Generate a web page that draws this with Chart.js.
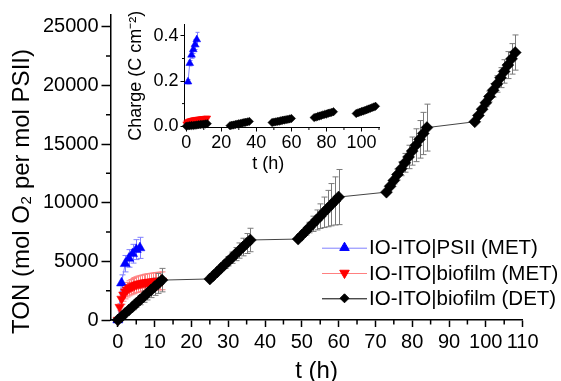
<!DOCTYPE html>
<html><head><meta charset="utf-8">
<script src="https://cdn.jsdelivr.net/npm/chart.js@4.4.1/dist/chart.umd.min.js"></script>
<style>
html,body{margin:0;padding:0;background:#fff;}
#wrap{position:relative;width:561px;height:381px;overflow:hidden;}
#main{position:absolute;left:0;top:0;}
#inset{position:absolute;left:100px;top:0;pointer-events:none;}
</style></head><body>
<div id="wrap">
<canvas id="main" width="561" height="381"></canvas>
<canvas id="inset" width="290" height="178"></canvas>
</div>
<script>
// ---------- DATA ----------
const seriesNames = ['IO-ITO|PSII (MET)', 'IO-ITO|biofilm (MET)', 'IO-ITO|biofilm (DET)'];

// IO-ITO|PSII (MET)
const tPSII   = [0, 1, 2, 3, 4, 5, 6];
const tonPSII = [0, 3150, 4800, 5250, 5650, 6000, 6150];
const errPSII = [0, 700, 700, 750, 800, 850, 900];

// IO-ITO|biofilm (MET)
const tBio    = [0, 0.5, 1, 1.5, 2, 2.5, 3, 3.5, 4, 4.5, 5, 5.5, 6, 6.5, 7, 7.5, 8, 8.5, 9, 9.5, 10, 10.5, 11, 11.5, 12];
const tonBio  = [0, 1100, 1800, 2150, 2400, 2580, 2700, 2800, 2880, 2950, 3010, 3060, 3100, 3140, 3170, 3200, 3220, 3240, 3260, 3280, 3300, 3310, 3320, 3330, 3340];
const errBio  = [0, 300, 450, 550, 600, 620, 640, 650, 660, 670, 680, 690, 700, 700, 710, 710, 720, 720, 730, 730, 740, 740, 750, 750, 760];

// IO-ITO|biofilm (DET)
const tDET   = [0, 1, 2, 3, 4, 5, 6, 7, 8, 9, 10, 11, 12,
                25, 26, 27, 28, 29, 30, 31, 32, 33, 34, 35, 36,
                49, 50, 51, 52, 53, 54, 55, 56, 57, 58, 59, 60,
                73, 74, 75, 76, 77, 78, 79, 80, 81, 82, 83, 84,
                97, 98, 99, 100, 101, 102, 103, 104, 105, 106, 107, 108];
const tonDET = [0, 280, 570, 850, 1130, 1420, 1700, 1990, 2270, 2560, 2840, 3120, 3400,
                3500, 3800, 4100, 4410, 4710, 5010, 5310, 5620, 5920, 6220, 6520, 6820,
                6900, 7230, 7550, 7880, 8200, 8530, 8850, 9180, 9500, 9830, 10150, 10480,
                10900, 11400, 11900, 12400, 12900, 13400, 13900, 14400, 14900, 15400, 15900, 16400,
                16900, 17440, 17970, 18510, 19050, 19580, 20120, 20660, 21190, 21730, 22260, 22800];
const errDET = [0, 60, 120, 190, 260, 330, 400, 480, 560, 650, 740, 850, 1000,
                40, 90, 160, 240, 320, 400, 480, 560, 650, 750, 850, 1000,
                60, 150, 300, 450, 650, 850, 1050, 1300, 1550, 1800, 2050, 2350,
                60, 150, 300, 450, 600, 800, 1000, 1200, 1400, 1600, 1800, 2000,
                50, 120, 220, 330, 450, 580, 700, 850, 1000, 1150, 1300, 1500];

// Inset: charge (C cm-2)
const tPSIIin     = [1, 2, 3, 4, 5, 6];
const chargePSII  = [0.197, 0.279, 0.316, 0.340, 0.362, 0.384];
const errChPSII   = [0.010, 0.012, 0.015, 0.018, 0.022, 0.032];
const chargeBio   = [0.010, 0.015, 0.019, 0.021, 0.023, 0.024, 0.025, 0.026, 0.027, 0.028, 0.028, 0.029, 0.030, 0.030, 0.031, 0.031, 0.032, 0.032, 0.033, 0.033, 0.034, 0.034, 0.035, 0.035, 0.036];
const chargeDET   = [0.000, 0.001, 0.002, 0.003, 0.003, 0.004, 0.005, 0.006, 0.007, 0.008, 0.009, 0.010, 0.011,
                     0.002, 0.004, 0.005, 0.007, 0.009, 0.011, 0.012, 0.014, 0.016, 0.017, 0.019, 0.021,
                     0.016, 0.018, 0.019, 0.021, 0.022, 0.024, 0.026, 0.027, 0.029, 0.030, 0.032, 0.034,
                     0.038, 0.040, 0.043, 0.045, 0.047, 0.050, 0.052, 0.054, 0.057, 0.059, 0.061, 0.064,
                     0.056, 0.059, 0.062, 0.065, 0.067, 0.070, 0.073, 0.076, 0.079, 0.082, 0.085, 0.088];

// Tick values
const xTicksMain  = [0, 10, 20, 30, 40, 50, 60, 70, 80, 90, 100, 110];
const xMinorMain  = [5, 15, 25, 35, 45, 55, 65, 75, 85, 95, 105];
const yTicksMain  = [0, 5000, 10000, 15000, 20000, 25000];
const yMinorMain  = [2500, 7500, 12500, 17500, 22500];
const xTicksInset = [0, 20, 40, 60, 80, 100];
const xMinorInset = [10, 30, 50, 70, 90, 110];
const yTicksInset = [0, 0.2, 0.4];
const yMinorInset = [0.1, 0.3];

// ---------- HELPERS ----------
const FONT = "'Liberation Sans', Arial, sans-serif";
const pts = (xs, ys) => xs.map((x, i) => ({x: x, y: ys[i]}));

const errorBarPlugin = {
  id: 'errbars',
  beforeDatasetsDraw(chart) {
    const ctx = chart.ctx, xs = chart.scales.x, ys = chart.scales.y;
    chart.data.datasets.forEach(ds => {
      if (!ds.errors) return;
      ctx.save();
      ctx.strokeStyle = ds.errColor; ctx.lineWidth = 1;
      ds.data.forEach((p, i) => {
        const e = ds.errors[i]; if (!e) return;
        const x = Math.round(xs.getPixelForValue(p.x)) + 0.5;
        const y1 = ys.getPixelForValue(p.y + e), y2 = ys.getPixelForValue(p.y - e);
        const c = ds.capHalf;
        ctx.beginPath();
        ctx.moveTo(x, y1); ctx.lineTo(x, y2);
        ctx.moveTo(x - c, y1); ctx.lineTo(x + c, y1);
        ctx.moveTo(x - c, y2); ctx.lineTo(x + c, y2);
        ctx.stroke();
      });
      ctx.restore();
    });
  }
};

const minorTickPlugin = {
  id: 'minorticks',
  afterDraw(chart, args, opts) {
    const ctx = chart.ctx, xs = chart.scales.x, ys = chart.scales.y;
    ctx.save();
    ctx.strokeStyle = '#000'; ctx.lineWidth = opts.width;
    ctx.beginPath();
    opts.x.forEach(v => {
      const px = xs.getPixelForValue(v);
      ctx.moveTo(px, xs.top); ctx.lineTo(px, xs.top + opts.len);
    });
    opts.y.forEach(v => {
      const py = ys.getPixelForValue(v);
      ctx.moveTo(ys.right, py); ctx.lineTo(ys.right - opts.len, py);
    });
    ctx.stroke();
    ctx.restore();
  }
};

const legendPlugin = {
  id: 'customLegend',
  afterDraw(chart, args, opts) {
    const ctx = chart.ctx;
    ctx.save();
    opts.items.forEach((it, i) => {
      const y = opts.y0 + i * opts.dy;
      ctx.strokeStyle = it.line; ctx.lineWidth = 1;
      ctx.beginPath(); ctx.moveTo(opts.x0, y + 0.5); ctx.lineTo(opts.x1, y + 0.5); ctx.stroke();
      ctx.fillStyle = it.color; ctx.strokeStyle = it.color;
      Chart.helpers.drawPoint(ctx, {pointStyle: it.style, rotation: it.rot, radius: it.r, borderWidth: 1}, opts.xm, y);
      ctx.fillStyle = '#000';
      ctx.font = opts.font;
      ctx.textBaseline = 'middle';
      ctx.textAlign = 'left';
      ctx.fillText(it.text, opts.xt, y + 1);
    });
    ctx.restore();
  }
};

// ---------- MAIN CHART ----------
new Chart(document.getElementById('main'), {
  type: 'scatter',
  data: { datasets: [
    { label: seriesNames[0], data: pts(tPSII, tonPSII), errors: errPSII, errColor: '#8080ff', capHalf: 3,
      showLine: true, borderColor: '#8080ff', borderWidth: 1, pointStyle: 'triangle', pointRadius: 5.8,
      pointBackgroundColor: '#0000ff', pointBorderColor: '#0000ff', pointBorderWidth: 0.5, order: 2, clip: false },
    { label: seriesNames[1], data: pts(tBio, tonBio), errors: errBio, errColor: '#ff8080', capHalf: 3,
      showLine: true, borderColor: '#ff8080', borderWidth: 1, pointStyle: 'triangle', pointRotation: 180, pointRadius: 5.5,
      pointBackgroundColor: '#ff0000', pointBorderColor: '#ff0000', pointBorderWidth: 0.5, order: 1, clip: false },
    { label: seriesNames[2], data: pts(tDET, tonDET), errors: errDET, errColor: '#7a7a7a', capHalf: 3,
      showLine: true, borderColor: '#444', borderWidth: 1, pointStyle: 'rectRot', pointRadius: 6,
      pointBackgroundColor: '#000', pointBorderColor: '#000', pointBorderWidth: 0.5, order: 0, clip: false }
  ]},
  options: {
    responsive: false, animation: false, events: [],
    layout: { padding: { top: 15, right: 38.4, left: 0, bottom: 0 } },
    plugins: {
      legend: { display: false }, tooltip: { enabled: false },
      minorticks: { x: xMinorMain, y: yMinorMain, len: 4.5, width: 1.5 },
      customLegend: {
        items: [
          { text: seriesNames[0], color: '#0000ff', line: '#8080ff', style: 'triangle', rot: 0, r: 5.5 },
          { text: seriesNames[1], color: '#ff0000', line: '#ff8080', style: 'triangle', rot: 180, r: 5.5 },
          { text: seriesNames[2], color: '#000000', line: '#000000', style: 'rectRot', rot: 0, r: 4.5 }
        ],
        x0: 322, x1: 367, xm: 344.5, xt: 369, y0: 247.7, dy: 25.3, font: "20.5px " + FONT
      }
    },
    scales: {
      x: {
        type: 'linear', min: -2, max: 110,
        afterBuildTicks: s => { s.ticks = xTicksMain.map(v => ({value: v})); },
        afterFit: s => { s.height = 61; },
        ticks: { font: { family: FONT, size: 20 }, color: '#000', padding: 3, maxRotation: 0, autoSkip: false },
        grid: { drawOnChartArea: false, tickLength: 7, tickColor: '#000', tickWidth: 1.5 },
        border: { color: '#000', width: 1.5 },
        title: { display: true, text: 't (h)', color: '#000', font: { family: FONT, size: 24, lineHeight: 1 }, padding: { top: 0, bottom: -2 } }
      },
      y: {
        type: 'linear', min: 0, max: 26000,
        afterBuildTicks: s => { s.ticks = yTicksMain.map(v => ({value: v})); },
        afterFit: s => { s.width = 110.5; },
        ticks: { font: { family: FONT, size: 20 }, color: '#000', padding: 3, autoSkip: false, callback: v => String(v) },
        grid: { drawOnChartArea: false, tickLength: 9, tickColor: '#000', tickWidth: 1.5 },
        border: { color: '#000', width: 1.5 },
        title: { display: true, text: 'TON (mol O\u2082 per mol PSII)\u2002\u2002\u2002\u2002', color: '#000', font: { family: FONT, size: 24, lineHeight: 1 }, padding: { top: 10, bottom: 0 } }
      }
    }
  },
  plugins: [errorBarPlugin, minorTickPlugin, legendPlugin]
});

// ---------- INSET CHART ----------
new Chart(document.getElementById('inset'), {
  type: 'scatter',
  data: { datasets: [
    { label: seriesNames[0], data: pts(tPSIIin, chargePSII), errors: errChPSII, errColor: '#8080ff', capHalf: 2,
      showLine: true, borderColor: '#8080ff', borderWidth: 1, pointStyle: 'triangle', pointRadius: 4.5,
      pointBackgroundColor: '#0000ff', pointBorderColor: '#0000ff', pointBorderWidth: 0.5, order: 2, clip: false },
    { label: seriesNames[1], data: pts(tBio, chargeBio),
      showLine: true, borderColor: '#ff8080', borderWidth: 1, pointStyle: 'triangle', pointRotation: 180, pointRadius: 4,
      pointBackgroundColor: '#ff0000', pointBorderColor: '#ff0000', pointBorderWidth: 0.5, order: 1, clip: false },
    { label: seriesNames[2], data: pts(tDET, chargeDET),
      showLine: false, pointStyle: 'rectRot', pointRadius: 4.2,
      pointBackgroundColor: '#000', pointBorderColor: '#000', pointBorderWidth: 0.5, order: 0, clip: false }
  ]},
  options: {
    responsive: false, animation: false, events: [],
    layout: { padding: { top: 24, right: 11, left: 0, bottom: 0 } },
    plugins: {
      legend: { display: false }, tooltip: { enabled: false },
      minorticks: { x: xMinorInset, y: yMinorInset, len: 2.5, width: 1 }
    },
    scales: {
      x: {
        type: 'linear', min: -1, max: 110,
        afterBuildTicks: s => { s.ticks = xTicksInset.map(v => ({value: v})); },
        afterFit: s => { s.height = 50.5; },
        ticks: { font: { family: FONT, size: 18 }, color: '#000', padding: 1, maxRotation: 0, autoSkip: false },
        grid: { drawOnChartArea: false, tickLength: 4, tickColor: '#000', tickWidth: 1 },
        border: { color: '#000', width: 1 },
        title: { display: true, text: 't (h)\u2002\u2002\u2002', color: '#000', font: { family: FONT, size: 18, lineHeight: 1 }, padding: { top: 0, bottom: 5 } }
      },
      y: {
        type: 'linear', min: -0.006, max: 0.453,
        afterBuildTicks: s => { s.ticks = yTicksInset.map(v => ({value: v})); },
        afterFit: s => { s.width = 84.5; },
        ticks: { font: { family: FONT, size: 18 }, color: '#000', padding: 2, autoSkip: false, callback: v => v.toFixed(1) },
        grid: { drawOnChartArea: false, tickLength: 4, tickColor: '#000', tickWidth: 1 },
        border: { color: '#000', width: 1 },
        title: { display: true, text: 'Charge (C cm\u207B\u00B2)', color: '#000', font: { family: FONT, size: 18, lineHeight: 1 }, padding: { top: 27, bottom: 0 } }
      }
    }
  },
  plugins: [errorBarPlugin, minorTickPlugin]
});
</script>
</body></html>
